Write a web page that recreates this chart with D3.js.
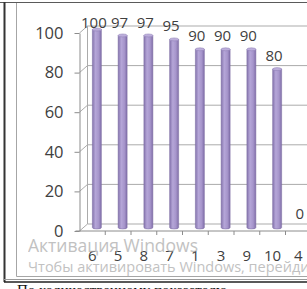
<!DOCTYPE html>
<html>
<head>
<meta charset="utf-8">
<script src="https://cdn.jsdelivr.net/npm/d3@7"></script>
<style>
  body { margin: 0; background: #fff; }
  svg { display: block; }
  .chart-text { font-family: "Open Sans", sans-serif; fill: #404040; }
</style>
</head>
<body>
<div id="chart-area"></div>
<script>
// data
const categories = ["6", "5", "8", "7", "1", "3", "9", "10", "4"];
const values = [100, 97, 97, 95, 90, 90, 90, 80, 0];
const yTicks = [0, 20, 40, 60, 80, 100];

const totalWidth = 307;
const totalHeight = 289;

// 3d depth offset of the back wall
const depthX = 8;
const depthY = -7;

const frontLeft = 79.5;
const bandStep = 25.75;

const svg = d3.select("#chart-area")
  .append("svg")
    .attr("width", totalWidth)
    .attr("height", totalHeight);

svg.append("rect")
  .attr("width", totalWidth)
  .attr("height", totalHeight)
  .attr("fill", "#fff");

const defs = svg.append("defs");
const grad = defs.append("linearGradient")
  .attr("id", "cyl")
  .attr("x1", "0%").attr("x2", "100%")
  .attr("y1", "0%").attr("y2", "0%");
grad.append("stop").attr("offset", "0%").attr("stop-color", "#8574ad");
grad.append("stop").attr("offset", "35%").attr("stop-color", "#b5a6d8");
grad.append("stop").attr("offset", "70%").attr("stop-color", "#a695cb");
grad.append("stop").attr("offset", "100%").attr("stop-color", "#806ea8");

const xScale = d3.scaleBand()
  .domain(categories)
  .range([frontLeft, frontLeft + bandStep * categories.length]);

const yScale = d3.scaleLinear()
  .domain([0, 100])
  .range([231, 33]);

// frame
svg.append("line")
  .attr("x1", 0).attr("x2", totalWidth)
  .attr("y1", 2.5).attr("y2", 2.5)
  .attr("stroke", "#5a5a5a");
svg.append("line")
  .attr("x1", 4.5).attr("x2", 4.5)
  .attr("y1", 2).attr("y2", 282)
  .attr("stroke", "#333").attr("stroke-width", 2);
svg.append("path")
  .attr("d", "M16.5,3V276.5H" + totalWidth)
  .attr("fill", "none")
  .attr("stroke", "#a6a6a6");
svg.append("line")
  .attr("x1", 4).attr("x2", totalWidth)
  .attr("y1", 279.5).attr("y2", 279.5)
  .attr("stroke", "#9a9a9a");
svg.append("line")
  .attr("x1", 4).attr("x2", totalWidth)
  .attr("y1", 282).attr("y2", 282)
  .attr("stroke", "#222").attr("stroke-width", 1.5);

// walls and gridlines
const grid = svg.append("g")
  .attr("fill", "none")
  .attr("stroke", "#ababab");

grid.selectAll(".diag")
  .data(yTicks)
  .enter()
  .append("path")
    .attr("d", d => "M" + frontLeft + "," + yScale(d) +
      "L" + (frontLeft + depthX) + "," + (yScale(d) + depthY) +
      "H" + totalWidth);

grid.append("line")
  .attr("x1", frontLeft + depthX).attr("x2", frontLeft + depthX)
  .attr("y1", yScale(100) + depthY).attr("y2", yScale(0) + depthY);

// y axis
const yAxisCall = d3.axisLeft(yScale)
  .tickValues(yTicks)
  .tickSize(5)
  .tickSizeOuter(0)
  .tickPadding(11);
const yAxis = svg.append("g")
  .attr("class", "y axis")
  .attr("transform", "translate(" + frontLeft + ",0)")
  .call(yAxisCall);
yAxis.selectAll("path, line").attr("stroke", "#8c8c8c");
yAxis.selectAll("text")
  .attr("class", "chart-text")
  .attr("font-size", "16.5px");

// bars as cylinders
const barW = 9;
const barCx = d => xScale(d.c) + xScale.bandwidth() / 2 + depthX / 2 + 0.5;
const barTop = d => yScale(d.v) + depthY / 2;
const barBase = yScale(0) + depthY / 2;
const rows = categories.map((c, i) => ({ c: c, v: values[i] }));

const bars = svg.append("g");
bars.selectAll(".body")
  .data(rows.filter(d => d.v > 0))
  .enter()
  .append("path")
    .attr("fill", "url(#cyl)")
    .attr("stroke", "#7a6aa0")
    .attr("stroke-width", 0.5)
    .attr("d", d => {
      const l = barCx(d) - barW / 2, r = barCx(d) + barW / 2;
      return "M" + l + "," + barTop(d) +
        "V" + barBase +
        "A" + (barW / 2) + ",1.5 0 0 0 " + r + "," + barBase +
        "V" + barTop(d) + "Z";
    });
bars.selectAll(".cap")
  .data(rows.filter(d => d.v > 0))
  .enter()
  .append("ellipse")
    .attr("cx", d => barCx(d))
    .attr("cy", d => barTop(d))
    .attr("rx", barW / 2)
    .attr("ry", 1.5)
    .attr("fill", "#bcaedb")
    .attr("stroke", "#8b7bb3")
    .attr("stroke-width", 0.5);

// value labels
svg.append("g")
  .selectAll("text")
  .data(rows)
  .enter()
  .append("text")
    .attr("class", "chart-text")
    .attr("font-size", "15px")
    .attr("text-anchor", "middle")
    .attr("x", d => barCx(d) - 3)
    .attr("y", d => Math.max(22, barTop(d) - 14) + 5.5)
    .text(d => d.v);

// floor, front axis
const floor = svg.append("g")
  .attr("fill", "none")
  .attr("stroke", "#8c8c8c");
floor.append("line")
  .attr("x1", frontLeft - 4).attr("x2", totalWidth)
  .attr("y1", yScale(0)).attr("y2", yScale(0));
floor.selectAll(".tick")
  .data(categories.slice(1))
  .enter()
  .append("line")
    .attr("x1", d => xScale(d)).attr("x2", d => xScale(d))
    .attr("y1", yScale(0)).attr("y2", yScale(0) + 4);

const xAxisCall = d3.axisBottom(xScale)
  .tickSize(0)
  .tickPadding(19);
const xAxis = svg.append("g")
  .attr("class", "x axis")
  .attr("transform", "translate(0," + yScale(0) + ")")
  .call(xAxisCall);
xAxis.select(".domain").remove();
xAxis.selectAll("text")
  .attr("class", "chart-text")
  .attr("font-size", "15px");

// windows activation watermark
svg.append("text")
  .attr("x", 28)
  .attr("y", 252)
  .attr("font-family", "Open Sans, sans-serif")
  .attr("font-size", "17.5px")
  .attr("fill", "#a8a8a8")
  .attr("opacity", 0.7)
  .text("Активация Windows");
svg.append("text")
  .attr("x", 28)
  .attr("y", 272)
  .attr("font-family", "Open Sans, sans-serif")
  .attr("font-size", "14.5px")
  .attr("fill", "#a8a8a8")
  .attr("opacity", 0.7)
  .text("Чтобы активировать Windows, перейдите");

// caption below, cut by the window edge
svg.append("text")
  .attr("x", 17)
  .attr("y", 295)
  .attr("font-family", "Liberation Serif, serif")
  .attr("font-size", "15px")
  .attr("fill", "#111")
  .text("По количественному показателю");
</script>
</body>
</html>
